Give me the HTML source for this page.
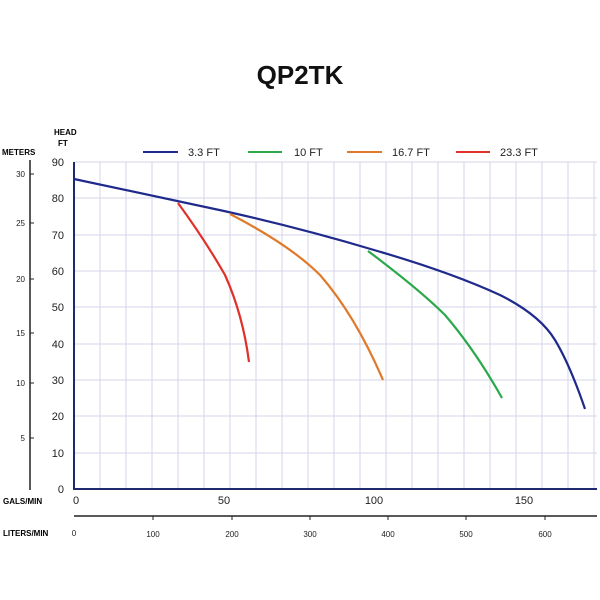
<!DOCTYPE html><html><head><style>body{margin:0;background:#fff}svg{display:block}text{font-family:"Liberation Sans",sans-serif}</style></head><body>
<svg width="600" height="600" xmlns="http://www.w3.org/2000/svg">
<text x="300" y="84" font-size="26" font-weight="bold" text-anchor="middle" fill="#111">QP2TK</text>
<g stroke="#d4d6ea" stroke-width="1">
<path d="M100 162V489M126 162V489M152 162V489M178 162V489M204 162V489M230 162V489M256 162V489M282 162V489M308 162V489M334 162V489M360 162V489M386 162V489M412 162V489M438 162V489M464 162V489M490 162V489M516 162V489M542 162V489M568 162V489M594 162V489"/>
<path d="M74 198H597M74 235H597M74 271H597M74 307H597M74 344H597M74 380H597M74 416H597M74 453H597M74 162H597"/>
</g>
<path d="M74 162V489H597" fill="none" stroke="#1f2a6e" stroke-width="2"/>
<g font-size="11" fill="#222" text-anchor="end">
<text x="64" y="166">90</text><text x="64" y="202">80</text><text x="64" y="239">70</text><text x="64" y="275">60</text><text x="64" y="311">50</text><text x="64" y="348">40</text><text x="64" y="384">30</text><text x="64" y="420">20</text><text x="64" y="457">10</text><text x="64" y="493">0</text>
</g>
<text x="54" y="135" font-size="8" font-weight="bold">HEAD</text><text x="58" y="146" font-size="8" font-weight="bold">FT</text>
<text x="2" y="155" font-size="8" font-weight="bold">METERS</text>
<path d="M30 160V490" stroke="#222" stroke-width="1.5"/>
<g stroke="#222"><path d="M30 174H34M30 223H34M30 279H34M30 333H34M30 383H34M30 438H34"/></g>
<g font-size="8" fill="#222" text-anchor="end"><text x="25" y="177">30</text><text x="25" y="226">25</text><text x="25" y="282">20</text><text x="25" y="336">15</text><text x="25" y="386">10</text><text x="25" y="441">5</text></g>
<text x="3" y="504" font-size="8" font-weight="bold">GALS/MIN</text>
<g font-size="11" fill="#222" text-anchor="middle"><text x="76" y="504">0</text><text x="224" y="504">50</text><text x="374" y="504">100</text><text x="524" y="504">150</text></g>
<path d="M74 516H597" stroke="#222" stroke-width="1.5"/>
<g stroke="#222"><path d="M153 516V520M232 516V520M310 516V520M388 516V520M466 516V520M545 516V520"/></g>
<text x="3" y="536" font-size="8" font-weight="bold">LITERS/MIN</text>
<g font-size="8" fill="#222" text-anchor="middle"><text x="74" y="536">0</text><text x="153" y="537">100</text><text x="232" y="537">200</text><text x="310" y="537">300</text><text x="388" y="537">400</text><text x="466" y="537">500</text><text x="545" y="537">600</text></g>
<g font-size="11" fill="#222">
<path d="M143 152H178" stroke="#1f2a8c" stroke-width="2"/><text x="188" y="156">3.3 FT</text>
<path d="M248 152H282" stroke="#2aa84a" stroke-width="2"/><text x="294" y="156">10 FT</text>
<path d="M347 152H382" stroke="#e07a2a" stroke-width="2"/><text x="392" y="156">16.7 FT</text>
<path d="M456 152H490" stroke="#e0302a" stroke-width="2"/><text x="500" y="156">23.3 FT</text>
</g>
<g fill="none" stroke-width="2.2">
<path d="M74 179 L224 211 Q300 228 374 250 Q450 272 500 295 Q540 315 555 340 Q570 365 585 409" stroke="#1f2a8c"/>
<path d="M368 251 Q420 290 445 315 Q475 350 502 398" stroke="#2aa84a"/>
<path d="M230 214 Q290 245 320 275 Q355 315 383 380" stroke="#e07a2a"/>
<path d="M178 203 Q205 240 225 275 Q243 315 249 362" stroke="#e0302a"/>
</g>
</svg></body></html>
